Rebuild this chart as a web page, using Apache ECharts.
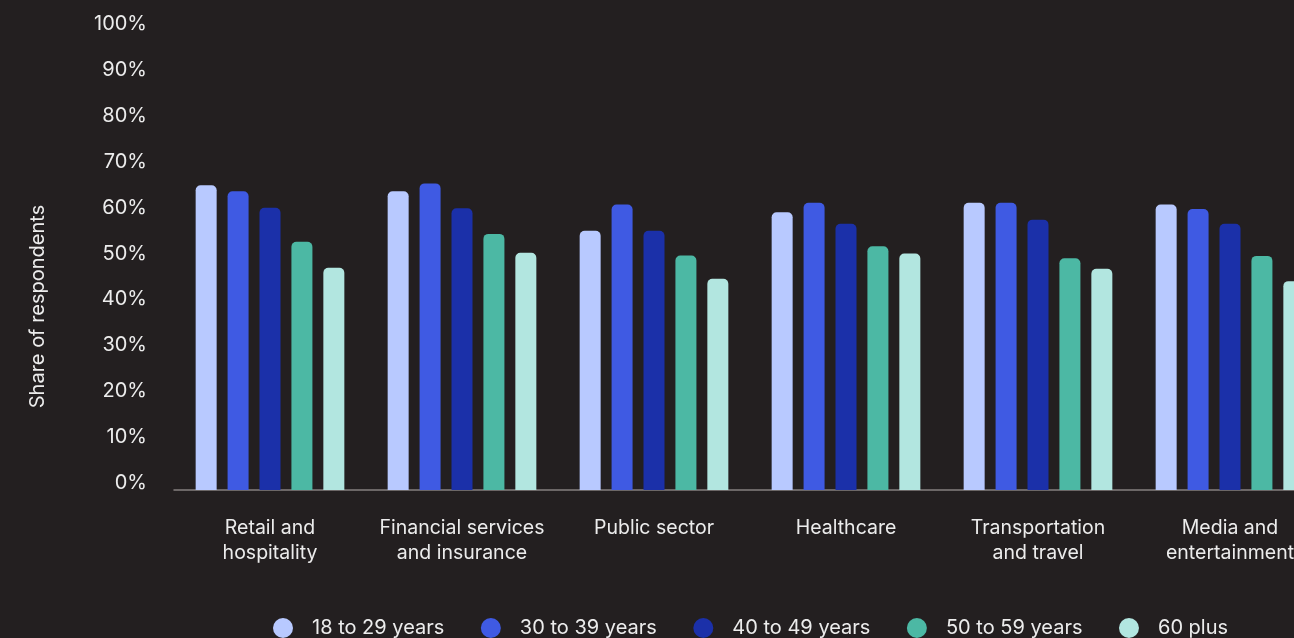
<!DOCTYPE html>
<html>
<head>
<meta charset="utf-8">
<script src="https://cdn.jsdelivr.net/npm/echarts@6/dist/echarts.min.js"></script>
<style>
  html, body { margin: 0; padding: 0; background: #231f20; overflow: hidden; }
  /* the plot runs slightly past the right edge of the window */
  #chart { width: 1326px; height: 638px; }
</style>
</head>
<body>
<div id="chart"></div>
<script>
// Industries shown along the x axis
const categories = [
  'Retail and\nhospitality',
  'Financial services\nand insurance',
  'Public sector',
  'Healthcare',
  'Transportation\nand travel',
  'Media and\nentertainment'
];

// Share of respondents (%) per age group
const age18to29 = [66.4, 65.1, 56.5, 60.5, 62.6, 62.2];
const age30to39 = [65.1, 66.8, 62.2, 62.6, 62.6, 61.2];
const age40to49 = [61.5, 61.4, 56.5, 58.0, 58.9, 58.0];
const age50to59 = [54.1, 55.8, 51.1, 53.1, 50.5, 51.0];
const age60plus = [48.4, 51.7, 46.0, 51.5, 48.2, 45.5];

const seriesNames = ['18 to 29 years', '30 to 39 years', '40 to 49 years', '50 to 59 years', '60 plus'];
const seriesData = [age18to29, age30to39, age40to49, age50to59, age60plus];
const seriesColors = ['#b8c9ff', '#3f5ae3', '#1b30a9', '#4cb8a4', '#b2e6e0'];

const fontFamily = 'Inter, "Noto Sans", sans-serif';
const textColor = '#ececec';

const chart = echarts.init(document.getElementById('chart'));

chart.setOption({
  backgroundColor: '#231f20',
  animation: false,
  textStyle: { fontFamily: fontFamily, color: textColor },
  grid: { left: 174, right: 0, top: 31, bottom: 148, containLabel: false },
  legend: {
    left: 273,
    top: 618,
    padding: 0,
    icon: 'circle',
    itemWidth: 20,
    itemHeight: 20,
    itemGap: 36.5,
    textStyle: { color: textColor, fontSize: 20, fontFamily: fontFamily, padding: [0, 0, 0, 14] },
    data: seriesNames
  },
  xAxis: {
    type: 'category',
    data: categories,
    axisLine: { show: true, lineStyle: { color: '#85807f', width: 1.5 } },
    axisTick: { show: false },
    axisLabel: {
      color: textColor,
      fontSize: 19.5,
      lineHeight: 25,
      margin: 26,
      interval: 0,
      fontFamily: fontFamily
    }
  },
  yAxis: {
    type: 'value',
    min: 0,
    max: 100,
    interval: 10,
    name: 'Share of respondents',
    nameLocation: 'middle',
    nameGap: 126,
    nameRotate: 90,
    nameTextStyle: { color: textColor, fontSize: 20, fontFamily: fontFamily, padding: [0, 92, 0, 0] },
    axisLine: { show: false },
    axisTick: { show: false },
    splitLine: { show: false },
    axisLabel: {
      formatter: '{value}%',
      color: textColor,
      fontSize: 20,
      margin: 27,
      verticalAlign: 'bottom',
      padding: [0, 0, -3, 0],
      fontFamily: fontFamily
    }
  },
  series: seriesNames.map((name, i) => ({
    name: name,
    type: 'bar',
    data: seriesData[i],
    barWidth: 21,
    barGap: '52%',
    itemStyle: { color: seriesColors[i], borderRadius: [5, 5, 0, 0] }
  }))
});
</script>
</body>
</html>
